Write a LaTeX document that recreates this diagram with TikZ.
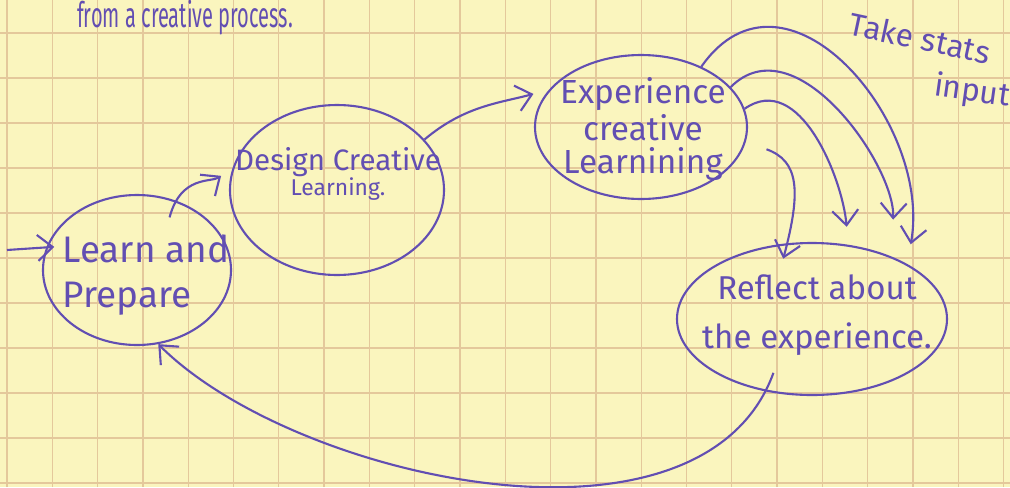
\documentclass[tikz,border=0pt]{standalone}
\usepackage{fontspec}
\setmainfont{Fira Sans}
\usepackage{tikz}
\usetikzlibrary{arrows.meta,shapes.geometric}
\definecolor{paper}{RGB}{250,245,190}
\definecolor{gridclr}{RGB}{228,200,155}
\definecolor{ink}{RGB}{98,78,178}

\begin{document}
\begin{tikzpicture}[
    gridline/.style={gridclr, line width=0.35pt},
    bubble/.style={draw=ink, ellipse, line width=0.6pt, inner sep=0pt},
    hand/.style={text=ink, inner sep=0pt},
    arr/.style={-{Straight Barb[length=1.5mm,width=2.6mm]}, ink, line width=0.6pt}
  ]
  % Paper and grid
  \fill[paper] (0,0) rectangle (10.10,4.87);
  \useasboundingbox (0,0) rectangle (10.10,4.87);
  \foreach \x in {0,...,22}
    \draw[gridline] ({0.07+0.453*\x},0) -- ++(0,4.87);
  \foreach \y in {0,...,10}
    \draw[gridline] (0,{4.54-0.45*\y}) -- ++(10.10,0);
  % Heading line
  \node[hand] (title) at (1.85,4.69)
        {\scalebox{0.57}[1]{\fontsize{10}{10}\selectfont from a creative process.}};
  % Stages
  \node[bubble, minimum width=1.88cm, minimum height=1.50cm] (learn) at (1.37,2.17) {};
  \node[bubble, minimum width=2.14cm, minimum height=1.70cm] (design) at (3.37,2.97) {};
  \node[bubble, minimum width=2.12cm, minimum height=1.44cm] (exper) at (6.41,3.60) {};
  \node[bubble, minimum width=2.70cm, minimum height=1.52cm] (reflect) at (8.12,1.68) {};
  \node[hand, align=left, font=\fontsize{10.5}{13}\selectfont] (learnTxt) at (1.46,2.12)
        {Learn and\\Prepare};
  \node[hand, align=center, font=\fontsize{8.4}{7}\selectfont] (designTxt) at (3.38,3.13)
        {Design Creative\\{\fontsize{6.5}{7}\selectfont Learning.}};
  \node[hand, align=center, font=\fontsize{9.5}{9.3}\selectfont] (experTxt) at (6.43,3.58)
        {Experience\\creative\\Learnining};
  \node[hand, align=center, font=\fontsize{9.4}{14}\selectfont] (reflectTxt) at (8.17,1.72)
        {Reflect about\\the experience.};
  \node[hand, rotate=-12, font=\fontsize{9}{9}\selectfont] (takeTxt) at (9.20,4.49) {Take stats};
  \node[hand, rotate=-8, font=\fontsize{9}{9}\selectfont] (inputTxt) at (9.72,3.95) {input};
  % Cycle
  \coordinate (entry) at (0.07,2.37);
  \draw[arr, shorten >=-0.8mm] (entry) -- (learn.166);
  \draw[arr, shorten <=-1.8mm, shorten >=1.4mm] (learn.62) to[out=75, in=215] (design.168);
  \draw[arr, shorten >=1.6mm] (design.30) to[out=40, in=195] (exper.158);
  % Feedback into reflection
  \draw[arr, shorten >=2mm] (exper.45) to[out=55, in=80, looseness=1.3] (reflect.30);
  \draw[arr, shorten >=3.7mm] (exper.24) to[out=45, in=88] (reflect.38);
  \draw[arr, shorten >=1.8mm] (exper.10) to[out=35, in=95] (reflect.64);
  \draw[arr, shorten <=2.2mm, shorten >=-1.6mm] (exper.-8) to[out=-20, in=75, looseness=1.3] (reflect.108);
  % Back to the start
  \draw[arr, shorten <=-2mm] (reflect.238) to[out=-110, in=-45, looseness=0.8] (learn.286);
\end{tikzpicture}
\end{document}
